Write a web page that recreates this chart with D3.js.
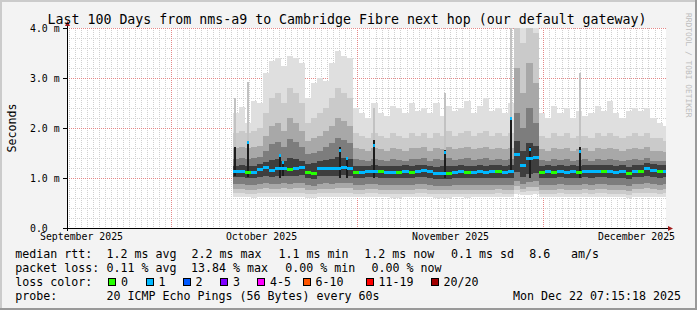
<!DOCTYPE html>
<meta charset="utf-8">
<title>Last 100 Days from nms-a9 to Cambridge Fibre next hop</title>
<style>
body { margin: 0; background: #f3f3f3; }
svg { display: block; font-family: "DejaVu Sans Mono", monospace; }
.minor { stroke: #d0d0d0; stroke-dasharray: 1,1; shape-rendering: crispEdges; }
.major { stroke: #e48888; stroke-dasharray: 1,1; shape-rendering: crispEdges; }
.smoke rect, .median rect, .spike rect, .frame rect { shape-rendering: crispEdges; }
.axis-line { stroke: #000; shape-rendering: crispEdges; }
.arrow { fill: #a01c1c; }
.legend text { font-size: 11.63px; fill: #000; }
.legend rect { stroke: #000; stroke-width: 1; shape-rendering: crispEdges; }
</style>
<svg id="chart" width="697" height="310"></svg>
<script src="https://d3js.org/d3.v7.min.js"></script>
<script>
let parseTime = d3.timeParse("%Y-%m-%d %H:%M");

// texts
const title = "Last 100 Days from nms-a9 to Cambridge Fibre next hop (our default gateway)";
const yTickValues = [0, 1, 2, 3, 4];
const yTickLabels = ["0.0", "1.0 m", "2.0 m", "3.0 m", "4.0 m"];
const monthStarts = ["2025-10-01 00:00", "2025-11-01 00:00", "2025-12-01 00:00"];
const monthLabels = ["September 2025", "October 2025", "November 2025", "December 2025"];
const monthLabelDates = ["2025-09-16 00:00", "2025-10-16 00:00", "2025-11-16 00:00", "2025-12-16 00:00"];

// smoke: one column per day starting at firstDay, rtt in ms (sorted ping percentiles)
const firstDay = "2025-10-11 08:00";
const maxRtt = [2.3, 2.42, 2.1, 2.55, 2.5, 3.1, 3.35, 3.4, 3.25, 3.45,
  3.4, 3.3, 2.6, 2.9, 3.0, 2.95, 3.3, 3.55, 3.45, 3.4,
  2.4, 2.3, 2.2, 2.5, 2.3, 2.25, 2.45, 2.4, 2.3, 2.5,
  2.35, 2.4, 2.3, 2.5, 2.25, 2.45, 2.35, 2.4, 2.55, 2.3,
  2.45, 2.6, 2.35, 2.4, 2.3, 2.5, 4.5, 4.5, 4.5, 4.5,
  2.3, 2.2, 2.45, 2.3, 2.4, 2.2, 2.35, 2.25, 2.3, 2.45,
  2.35, 2.55, 2.3, 2.2, 2.35, 2.4, 2.35, 2.4, 2.2, 2.1,
  2.05];
const p90Rtt = [1.9, 1.95, 1.9, 1.95, 2.0, 2.3, 2.6, 2.7, 2.5, 2.8,
  2.7, 2.5, 2.1, 2.2, 2.3, 2.4, 2.6, 2.8, 2.7, 2.6,
  1.9, 1.85, 1.8, 1.9, 1.85, 1.8, 1.9, 1.85, 1.8, 1.9,
  1.85, 1.9, 1.8, 1.9, 1.85, 1.95, 1.85, 1.9, 1.95, 1.85,
  1.9, 1.95, 1.85, 1.9, 1.85, 1.9, 4.3, 3.7, 4.2, 3.9,
  1.85, 1.8, 1.9, 1.85, 1.9, 1.8, 1.85, 1.85, 1.8, 1.9,
  1.85, 1.9, 1.85, 1.8, 1.85, 1.9, 1.85, 1.9, 1.8, 1.8,
  1.75];
const p80Rtt = [1.6, 1.62, 1.6, 1.62, 1.65, 1.85, 2.05, 2.1, 1.95, 2.2,
  2.1, 1.95, 1.75, 1.8, 1.85, 1.95, 2.05, 2.2, 2.15, 2.05,
  1.6, 1.58, 1.55, 1.6, 1.58, 1.55, 1.6, 1.58, 1.55, 1.6,
  1.6, 1.62, 1.55, 1.6, 1.58, 1.62, 1.58, 1.6, 1.62, 1.58,
  1.6, 1.62, 1.58, 1.6, 1.58, 1.6, 3.2, 2.7, 3.3, 2.9,
  1.58, 1.55, 1.6, 1.58, 1.6, 1.55, 1.58, 1.6, 1.55, 1.6,
  1.58, 1.6, 1.58, 1.55, 1.58, 1.6, 1.58, 1.62, 1.55, 1.55,
  1.52];
const p70Rtt = [1.38, 1.4, 1.38, 1.4, 1.42, 1.55, 1.68, 1.72, 1.62, 1.78,
  1.72, 1.62, 1.48, 1.5, 1.55, 1.62, 1.7, 1.8, 1.76, 1.7,
  1.38, 1.36, 1.35, 1.38, 1.36, 1.35, 1.38, 1.36, 1.35, 1.38,
  1.38, 1.4, 1.35, 1.38, 1.36, 1.4, 1.36, 1.38, 1.4, 1.36,
  1.38, 1.4, 1.36, 1.38, 1.36, 1.38, 2.3, 2.0, 2.4, 2.1,
  1.36, 1.35, 1.38, 1.36, 1.38, 1.35, 1.36, 1.38, 1.35, 1.38,
  1.36, 1.38, 1.36, 1.35, 1.36, 1.38, 1.36, 1.4, 1.35, 1.35,
  1.34];
const p60Rtt = [1.25, 1.26, 1.25, 1.24, 1.28, 1.32, 1.36, 1.38, 1.34, 1.4,
  1.38, 1.35, 1.28, 1.3, 1.34, 1.36, 1.38, 1.42, 1.4, 1.38,
  1.25, 1.24, 1.25, 1.26, 1.24, 1.25, 1.24, 1.25, 1.26, 1.24,
  1.26, 1.27, 1.24, 1.23, 1.24, 1.25, 1.25, 1.26, 1.25, 1.25,
  1.26, 1.25, 1.26, 1.26, 1.25, 1.26, 1.75, 1.55, 1.7, 1.65,
  1.25, 1.26, 1.25, 1.27, 1.25, 1.26, 1.25, 1.27, 1.26, 1.27,
  1.27, 1.26, 1.25, 1.26, 1.23, 1.27, 1.27, 1.31, 1.28, 1.26,
  1.27];
const medianRtt = [1.15, 1.14, 1.13, 1.12, 1.18, 1.22, 1.16, 1.2, 1.2, 1.18,
  1.2, 1.23, 1.12, 1.1, 1.2, 1.2, 1.2, 1.2, 1.22, 1.2,
  1.12, 1.12, 1.14, 1.15, 1.14, 1.13, 1.12, 1.12, 1.14, 1.12,
  1.15, 1.17, 1.14, 1.1, 1.1, 1.11, 1.12, 1.14, 1.12, 1.13,
  1.14, 1.13, 1.14, 1.14, 1.13, 1.14, 1.48, 1.26, 1.4, 1.42,
  1.13, 1.14, 1.13, 1.15, 1.13, 1.14, 1.13, 1.15, 1.14, 1.15,
  1.15, 1.14, 1.13, 1.14, 1.1, 1.15, 1.15, 1.2, 1.16, 1.14,
  1.15];
const p40Rtt = [1.02, 1.02, 1.01, 1.0, 1.03, 1.05, 1.03, 1.04, 1.05, 1.04,
  1.05, 1.06, 1.0, 0.99, 1.04, 1.05, 1.04, 1.05, 1.06, 1.05,
  1.0, 1.01, 1.02, 1.02, 1.01, 1.0, 1.0, 1.0, 1.01, 1.0,
  1.02, 1.03, 1.01, 0.99, 0.99, 0.99, 1.0, 1.01, 1.0, 1.0,
  1.01, 1.0, 1.01, 1.01, 1.0, 1.01, 1.12, 1.02, 1.08, 1.1,
  1.0, 1.01, 1.0, 1.02, 1.0, 1.01, 1.0, 1.02, 1.01, 1.02,
  1.02, 1.01, 1.0, 1.01, 0.98, 1.02, 1.02, 1.05, 1.03, 1.01,
  1.02];
const p30Rtt = [0.88, 0.88, 0.87, 0.86, 0.89, 0.9, 0.88, 0.89, 0.9, 0.89,
  0.9, 0.91, 0.86, 0.85, 0.89, 0.9, 0.89, 0.9, 0.91, 0.9,
  0.86, 0.87, 0.88, 0.88, 0.87, 0.86, 0.86, 0.86, 0.87, 0.86,
  0.88, 0.89, 0.87, 0.85, 0.85, 0.85, 0.86, 0.87, 0.86, 0.86,
  0.87, 0.86, 0.87, 0.87, 0.86, 0.87, 0.95, 0.88, 0.92, 0.94,
  0.86, 0.87, 0.86, 0.88, 0.86, 0.87, 0.86, 0.88, 0.87, 0.88,
  0.88, 0.87, 0.86, 0.87, 0.84, 0.88, 0.88, 0.9, 0.88, 0.87,
  0.88];
const p20Rtt = [0.78, 0.78, 0.77, 0.77, 0.79, 0.8, 0.78, 0.79, 0.8, 0.79,
  0.8, 0.8, 0.77, 0.76, 0.79, 0.79, 0.79, 0.8, 0.8, 0.8,
  0.77, 0.77, 0.78, 0.78, 0.77, 0.77, 0.77, 0.76, 0.77, 0.77,
  0.78, 0.79, 0.77, 0.76, 0.76, 0.76, 0.77, 0.77, 0.76, 0.77,
  0.77, 0.77, 0.77, 0.78, 0.77, 0.77, 0.84, 0.79, 0.82, 0.83,
  0.77, 0.77, 0.77, 0.78, 0.77, 0.77, 0.77, 0.78, 0.77, 0.78,
  0.78, 0.77, 0.77, 0.77, 0.75, 0.78, 0.78, 0.8, 0.78, 0.77,
  0.78];
const p10Rtt = [0.7, 0.7, 0.69, 0.69, 0.71, 0.71, 0.7, 0.71, 0.71, 0.7,
  0.71, 0.71, 0.69, 0.68, 0.7, 0.71, 0.7, 0.71, 0.71, 0.71,
  0.69, 0.69, 0.7, 0.7, 0.69, 0.69, 0.69, 0.68, 0.69, 0.69,
  0.7, 0.7, 0.69, 0.68, 0.68, 0.68, 0.69, 0.69, 0.68, 0.69,
  0.69, 0.69, 0.69, 0.7, 0.69, 0.69, 0.76, 0.72, 0.74, 0.75,
  0.69, 0.69, 0.69, 0.7, 0.69, 0.69, 0.69, 0.7, 0.69, 0.7,
  0.7, 0.69, 0.69, 0.69, 0.67, 0.7, 0.7, 0.71, 0.7, 0.69,
  0.7];
const minRtt = [0.62, 0.63, 0.62, 0.61, 0.63, 0.63, 0.62, 0.63, 0.63, 0.62,
  0.63, 0.63, 0.61, 0.61, 0.62, 0.63, 0.62, 0.63, 0.63, 0.63,
  0.62, 0.62, 0.62, 0.63, 0.62, 0.62, 0.61, 0.61, 0.62, 0.62,
  0.62, 0.63, 0.62, 0.61, 0.61, 0.61, 0.62, 0.62, 0.61, 0.62,
  0.62, 0.62, 0.62, 0.62, 0.62, 0.62, 0.68, 0.66, 0.67, 0.68,
  0.62, 0.62, 0.62, 0.63, 0.62, 0.62, 0.62, 0.63, 0.62, 0.63,
  0.63, 0.62, 0.62, 0.62, 0.61, 0.63, 0.63, 0.63, 0.63, 0.62,
  0.63];
// lost pings (of 20) per day
const lossCount = [1, 1, 0, 1, 1, 1, 1, 1, 1, 0,
  1, 1, 0, 0, 1, 1, 1, 1, 1, 1,
  0, 1, 1, 1, 0, 1, 1, 0, 1, 0,
  1, 1, 1, 1, 1, 0, 1, 1, 0, 1,
  1, 1, 1, 0, 1, 1, 1, 1, 1, 1,
  0, 1, 0, 1, 1, 1, 0, 1, 1, 1,
  0, 1, 1, 1, 0, 1, 0, 1, 1, 0,
  1];

// short latency spikes
const spikeTimes = ["2025-10-11 16:00", "2025-10-13 18:40", "2025-10-19 02:00", "2025-10-19 16:00",
  "2025-10-29 02:00", "2025-10-30 08:00", "2025-11-03 17:50", "2025-11-15 06:30",
  "2025-11-25 20:10", "2025-11-28 23:30", "2025-12-06 23:15"];
const spikeGray = [2.6, 2.93, 1.47, 1.35, 1.62, 1.42, 2.4, 2.7, 4.5, 1.62, 3.1];
const spikeDark = [1.62, 1.72, 1.47, 1.35, 1.62, 1.42, 1.76, 1.56, 2.22, 1.62, 1.62];
const spikeLow = [1.05, 1.02, 1.0, 1.05, 1.0, 1.0, 1.0, 1.0, 1.1, 1.0, 1.0];
const spikeMedian = [1.15, 1.72, 1.46, 1.33, 1.56, 1.40, 1.66, 1.53, 2.2, 1.58, 1.54];

const lossLabels = ["0", "1", "2", "3", "4-5", "6-10", "11-19", "20/20"];
const lossColors = ["#26ff00", "#00b8ff", "#0059ff", "#7e00ff", "#ff00ff", "#ff5500", "#ff0000", "#a10000"];

let svg = d3.select("#chart"),
    W = 697, H = 310,
    plot = {left: 67, right: 666, top: 28, bottom: 228};

let x = d3.scaleTime().domain(monthStarts.map(parseTime)).range([171, 357, 543]),
    y = d3.scaleLinear().domain([0, 4]).range([plot.bottom, plot.top]);

// background + frame
let frame = svg.append("g").attr("class", "frame");
frame.append("rect").attr("width", W).attr("height", H).attr("fill", "#f3f3f3");
frame.append("rect").attr("width", W).attr("height", 2).attr("fill", "#cbcbcb");
frame.append("rect").attr("width", 2).attr("height", H).attr("fill", "#cbcbcb");
frame.append("rect").attr("y", H - 2).attr("width", W).attr("height", 2).attr("fill", "#999");
frame.append("rect").attr("x", W - 2).attr("width", 2).attr("height", H).attr("fill", "#999");
frame.append("rect").attr("x", plot.left).attr("y", plot.top)
  .attr("width", plot.right - plot.left).attr("height", plot.bottom - plot.top).attr("fill", "#fff");

// grid
let grid = svg.append("g");
let t0 = x.invert(plot.left), t1 = x.invert(plot.right);
let monthSet = new Set(monthStarts.map(s => +parseTime(s)));
let crisp = v => Math.round(v) + 0.5;
grid.selectAll("line.vminor").data(d3.timeDay.range(t0, t1).filter(d => !monthSet.has(+d)))
  .join("line").attr("class", "minor")
  .attr("x1", d => crisp(x(d))).attr("x2", d => crisp(x(d)))
  .attr("y1", plot.top).attr("y2", plot.bottom);
grid.selectAll("line.hminor").data(d3.range(1, 20).map(k => k / 5).filter(v => Math.abs(v - Math.round(v)) > 1e-6))
  .join("line").attr("class", "minor")
  .attr("x1", plot.left).attr("x2", plot.right)
  .attr("y1", d => crisp(y(d))).attr("y2", d => crisp(y(d)));
grid.selectAll("line.vmajor").data(monthStarts.map(parseTime))
  .join("line").attr("class", "major")
  .attr("x1", d => crisp(x(d))).attr("x2", d => crisp(x(d)))
  .attr("y1", plot.top).attr("y2", plot.bottom);
grid.selectAll("line.hmajor").data([1, 2, 3, 4])
  .join("line").attr("class", "major")
  .attr("x1", plot.left).attr("x2", plot.right)
  .attr("y1", d => crisp(y(d))).attr("y2", d => crisp(y(d)));

// clip
svg.append("clipPath").attr("id", "clip").append("rect")
  .attr("x", plot.left + 1).attr("y", plot.top)
  .attr("width", plot.right - plot.left - 1).attr("height", plot.bottom - plot.top);

let data = svg.append("g").attr("clip-path", "url(#clip)");
let day0 = parseTime(firstDay);
let days = maxRtt.map((v, i) => d3.timeDay.offset(day0, i));
let colX0 = d => Math.round(x(d)),
    colW = d => Math.round(x(d3.timeDay.offset(d, 1))) - Math.round(x(d));

// smoke, outer band first
const smokeBands = [[minRtt, maxRtt], [p10Rtt, p90Rtt], [p20Rtt, p80Rtt], [p30Rtt, p70Rtt], [p40Rtt, p60Rtt]];
const smokeColors = ["#dfdfdf", "#cacaca", "#a8a8a8", "#7d7d7d", "#3e3e3e"];
let smoke = data.append("g").attr("class", "smoke");
smokeBands.forEach(([lo, hi], b) => {
  smoke.append("g").selectAll("rect").data(days).join("rect")
    .attr("x", colX0)
    .attr("width", colW)
    .attr("y", (d, i) => y(hi[i]))
    .attr("height", (d, i) => y(lo[i]) - y(hi[i]))
    .attr("fill", smokeColors[b]);
});

// spikes
let spikes = data.append("g").attr("class", "spike");
let spikeDates = spikeTimes.map(parseTime);
spikes.selectAll("rect.g").data(spikeDates).join("rect")
  .attr("x", d => Math.round(x(d)) - 1).attr("width", 2)
  .attr("y", (d, i) => y(spikeGray[i]))
  .attr("height", (d, i) => Math.max(0, y(spikeDark[i]) - y(spikeGray[i])))
  .attr("fill", "#c2c2c2");
spikes.selectAll("rect.d").data(spikeDates).join("rect")
  .attr("x", d => Math.round(x(d)) - 1).attr("width", 2)
  .attr("y", (d, i) => y(spikeDark[i]))
  .attr("height", (d, i) => y(spikeLow[i]) - y(spikeDark[i]))
  .attr("fill", "#1c1c1c");

// median, coloured by loss
let median = data.append("g").attr("class", "median");
median.selectAll("rect").data(days).join("rect")
  .attr("x", colX0)
  .attr("width", colW)
  .attr("y", (d, i) => Math.round(y(medianRtt[i])) - 1)
  .attr("height", 3)
  .attr("fill", (d, i) => lossColors[lossCount[i]]);
median.selectAll("rect.s").data(spikeDates).join("rect")
  .attr("x", d => Math.round(x(d)) - 1).attr("width", 2)
  .attr("y", (d, i) => Math.round(y(spikeMedian[i])) - 1)
  .attr("height", 3)
  .attr("fill", lossColors[1]);

// axes
let yAxis = svg.append("g")
  .attr("transform", "translate(" + plot.left + ",0)")
  .call(d3.axisLeft(y).tickValues(yTickValues).tickFormat((d, i) => yTickLabels[i]).tickSize(4));
yAxis.select(".domain").remove();
yAxis.attr("font-family", "DejaVu Sans Mono").attr("font-size", 9.85);
yAxis.selectAll("line").attr("shape-rendering", "crispEdges");
yAxis.selectAll("text").attr("x", 30 - plot.left).attr("text-anchor", "start").attr("dy", "0.36em");

let xAxis = svg.append("g")
  .attr("transform", "translate(0," + plot.bottom + ")")
  .call(d3.axisBottom(x).tickValues(monthLabelDates.map(parseTime)).tickFormat((d, i) => monthLabels[i]).tickSize(0).tickPadding(5));
xAxis.select(".domain").remove();
xAxis.attr("font-family", "DejaVu Sans Mono").attr("font-size", 9.85);

svg.append("line").attr("class", "axis-line")
  .attr("x1", plot.left - 4).attr("x2", plot.right + 3)
  .attr("y1", plot.bottom + 0.5).attr("y2", plot.bottom + 0.5);
svg.append("line").attr("class", "axis-line")
  .attr("x1", plot.left + 0.5).attr("x2", plot.left + 0.5)
  .attr("y1", plot.bottom + 3).attr("y2", plot.top - 3);
svg.append("path").attr("class", "arrow")
  .attr("d", d3.line()([[plot.left - 2, plot.top - 2], [plot.left + 3, plot.top - 2], [plot.left + 0.5, plot.top - 7]]) + "Z");
svg.append("path").attr("class", "arrow")
  .attr("d", d3.line()([[plot.right + 2, plot.bottom - 2], [plot.right + 2, plot.bottom + 3], [plot.right + 7, plot.bottom + 0.5]]) + "Z");

// title, unit, watermark
svg.append("text").attr("x", 347).attr("y", 24).attr("text-anchor", "middle")
  .attr("font-size", 13.28).attr("fill", "#000").text(title);
svg.append("text").attr("transform", "translate(16,128) rotate(-90)").attr("text-anchor", "middle")
  .attr("font-size", 11.63).attr("fill", "#000").text("Seconds");
svg.append("text").attr("transform", "translate(686,13) rotate(90)")
  .attr("font-size", 7.9).attr("fill", "#bdbdbd").text("RRDTOOL / TOBI OETIKER");

// legend
const legendRows = [
  {y: 258.3, items: [[15.3, "median rtt:"], [106.6, "1.2 ms avg"], [191.6, "2.2 ms max"], [278.6, "1.1 ms min"],
    [364.3, "1.2 ms now"], [451, "0.1 ms sd"], [529.3, "8.6"], [571, "am/s"]]},
  {y: 272.3, items: [[15.3, "packet loss:"], [106.6, "0.11 % avg"], [191, "13.84 % max"], [285.3, "0.00 % min"], [371.6, "0.00 % now"]]},
  {y: 286.3, items: [[15.3, "loss color:"]]},
  {y: 300.3, items: [[15.3, "probe:"], [106.6, "20 ICMP Echo Pings (56 Bytes) every 60s"]]}
];
let legend = svg.append("g").attr("class", "legend");
legendRows.forEach(row => {
  row.items.forEach(([lx, s]) => legend.append("text").attr("x", lx).attr("y", row.y).text(s));
});
legend.append("text").attr("x", 681).attr("y", 300.3).attr("text-anchor", "end").text("Mon Dec 22 07:15:18 2025");

const lossBoxX = [108, 145.5, 182.5, 220, 257, 302.5, 365.5, 430.5];
lossLabels.forEach((lab, i) => {
  let bx = Math.round(lossBoxX[i]) + 0.5;
  legend.append("rect").attr("x", bx).attr("y", 278.5).attr("width", 7).attr("height", 7).attr("fill", lossColors[i]);
  legend.append("text").attr("x", lossBoxX[i] + 13).attr("y", 286.3).text(lab);
});
</script>
